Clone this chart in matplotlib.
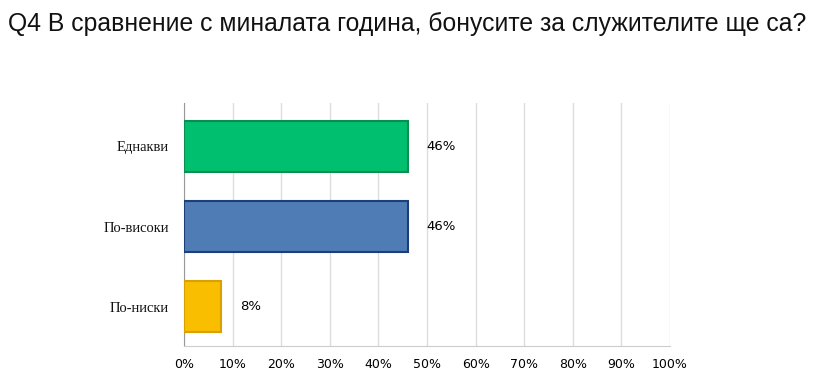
import numpy as np
import matplotlib.pyplot as plt

# survey answers
categories = ["Еднакви", "По-високи", "По-ниски"]
values = [46.15, 46.15, 7.69]
labels = ["46%", "46%", "8%"]
colors = ["#00bf6f", "#507cb6", "#f9be00"]
edges = ["#0b8c50", "#1c3f78", "#d9a000"]
ticks = list(range(0, 101, 10))

fig = plt.figure(figsize=(8.22, 3.86), dpi=100)
fig.text(8 / 822, 1 - 24 / 386, "Q4 В сравнение с миналата година, бонусите за служителите ще са?",
         fontsize=17.8, family="Liberation Sans", va="center", ha="left", color="#111111")

ax = fig.add_axes([184 / 822, 1 - 346 / 386, 486 / 822, 243 / 386])
y = np.arange(len(categories))
ax.barh(y, values, height=0.64, color=colors, edgecolor=edges, linewidth=1.5, zorder=3)
for yi, v, lab in zip(y, values, labels):
    ax.text(v + 3.8, yi, lab, va="center", ha="left", fontsize=9.5, color="#000000")

ax.set_xlim(0, 100)
ax.set_ylim(2.49, -0.54)
ax.set_yticks(y)
ax.set_yticklabels(categories, family="Liberation Serif", fontsize=10.5, color="#111111")
ax.set_xticks(ticks)
ax.set_xticklabels([f"{t}%" for t in ticks], fontsize=9, color="#000000")
ax.tick_params(axis="both", length=0)
ax.tick_params(axis="x", pad=9)
ax.tick_params(axis="y", pad=11)
ax.grid(axis="x", color="#dddddd", linewidth=1, zorder=0)
for s in ["top", "right"]:
    ax.spines[s].set_visible(False)
ax.spines["left"].set_color("#999999")
ax.spines["bottom"].set_color("#cccccc")

fig.savefig("out.png", dpi=100)
